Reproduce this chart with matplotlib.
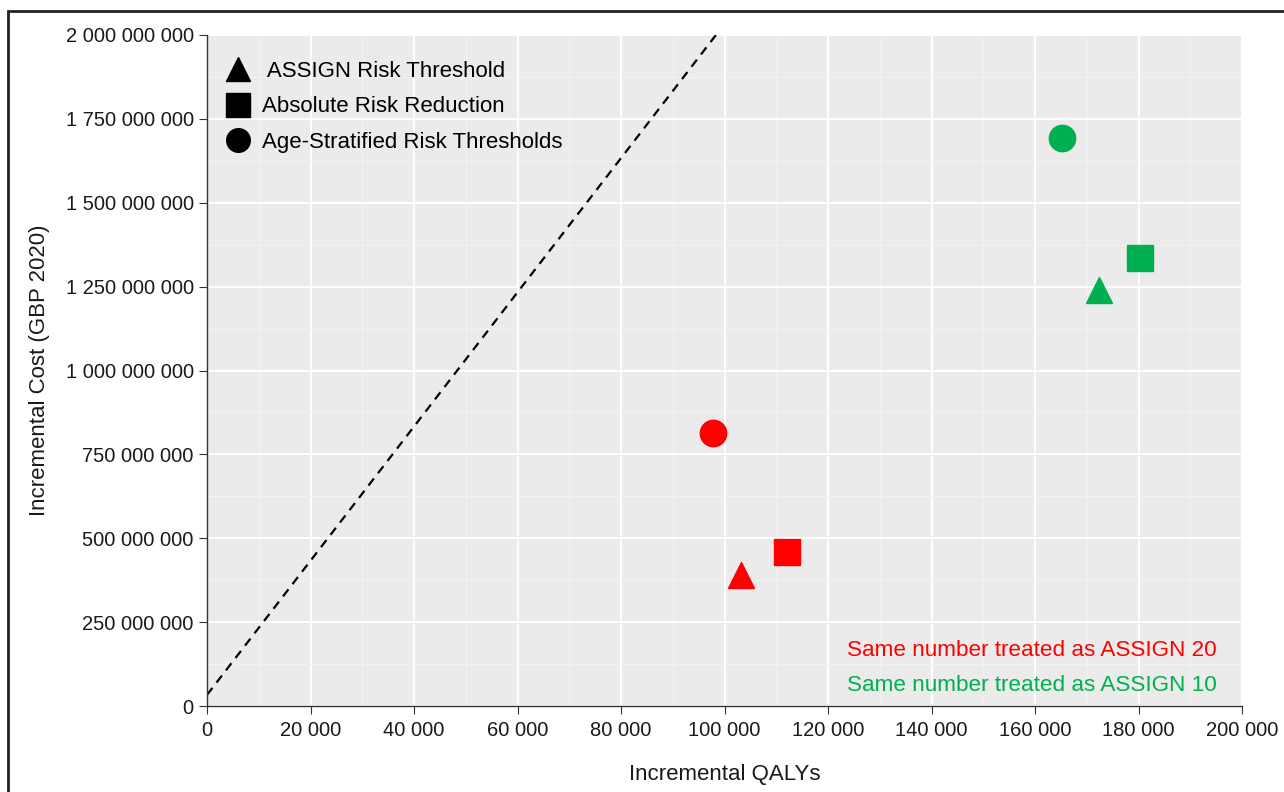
import matplotlib
matplotlib.use("Agg")
import matplotlib.pyplot as plt
from matplotlib.lines import Line2D
from matplotlib.patches import Rectangle
from matplotlib.ticker import FuncFormatter, MultipleLocator

plt.rcParams['font.family'] = ['Liberation Sans', 'DejaVu Sans']

# incremental QALYs / incremental cost per strategy
strategies = ['ASSIGN Risk Threshold', 'Absolute Risk Reduction', 'Age-Stratified Risk Thresholds']
markers = ['^', 's', 'o']
qalys_20 = [103200, 112000, 97800]
costs_20 = [390e6, 458e6, 813e6]
qalys_10 = [172400, 180300, 165200]
costs_10 = [1240e6, 1336e6, 1692e6]

# willingness-to-pay line
wtp_x = [0, 100000]
wtp_intercept = 33e6
wtp_slope = 20000

RED = '#ff0000'
GREEN = '#00b050'

fig = plt.figure(figsize=(12.84, 7.92), dpi=100)
ax = fig.add_axes([207/1284, 86/792, 1035/1284, 671/792])
ax.set_facecolor('#ebebeb')

ax.set_xlim(0, 200000)
ax.set_ylim(0, 2e9)
ax.xaxis.set_major_locator(MultipleLocator(20000))
ax.xaxis.set_minor_locator(MultipleLocator(10000))
ax.yaxis.set_major_locator(MultipleLocator(250e6))
ax.yaxis.set_minor_locator(MultipleLocator(125e6))
fmt = FuncFormatter(lambda v, p: f'{v:,.0f}'.replace(',', ' '))
ax.xaxis.set_major_formatter(fmt)
ax.yaxis.set_major_formatter(fmt)
ax.grid(which='major', color='white', lw=1.4)
ax.grid(which='minor', color='#f3f3f3', lw=0.7)
ax.set_axisbelow(True)
for s in ['top', 'right']:
    ax.spines[s].set_visible(False)
for s in ['left', 'bottom']:
    ax.spines[s].set_color('#333333')
    ax.spines[s].set_linewidth(1.0)
ax.tick_params(which='major', length=6, color='#333333', labelsize=14.5, labelcolor='#1a1a1a')
ax.tick_params(axis='x', pad=5)
ax.tick_params(which='minor', length=0)

ax.plot(wtp_x, [wtp_intercept + wtp_slope * x for x in wtp_x], ls=(0, (4, 3)),
        color='black', lw=1.6, zorder=2)

for m, x, y in zip(markers, qalys_20, costs_20):
    ax.plot(x, y, marker=m, color=RED, ms=19, ls='none', zorder=3)
for m, x, y in zip(markers, qalys_10, costs_10):
    ax.plot(x, y, marker=m, color=GREEN, ms=19, ls='none', zorder=3)

handles = [Line2D([], [], marker=m, color='black', ls='none', ms=17) for m in markers]
labels = [' ' + strategies[0], strategies[1], strategies[2]]
ax.legend(handles, labels, loc='upper left', frameon=False, fontsize=16,
          handletextpad=0.5, labelspacing=0.66, borderaxespad=0.0, handlelength=1.2,
          bbox_to_anchor=(0.008, 0.975))

ax.text(0.618, 0.082, 'Same number treated as ASSIGN 20', transform=ax.transAxes,
        color=RED, fontsize=16.2, va='center', ha='left')
ax.text(0.618, 0.030, 'Same number treated as ASSIGN 10', transform=ax.transAxes,
        color=GREEN, fontsize=16.2, va='center', ha='left')

ax.set_xlabel('Incremental QALYs', fontsize=16, color='#1a1a1a', labelpad=17)
ax.set_ylabel('Incremental Cost (GBP 2020)', fontsize=16, color='#1a1a1a', labelpad=11)

fig.patches.append(Rectangle((8/1284, -0.1), 1.2, (792 - 11)/792 + 0.1, transform=fig.transFigure,
                             fill=False, ec='#222222', lw=2))

fig.savefig('out.png', dpi=100)
